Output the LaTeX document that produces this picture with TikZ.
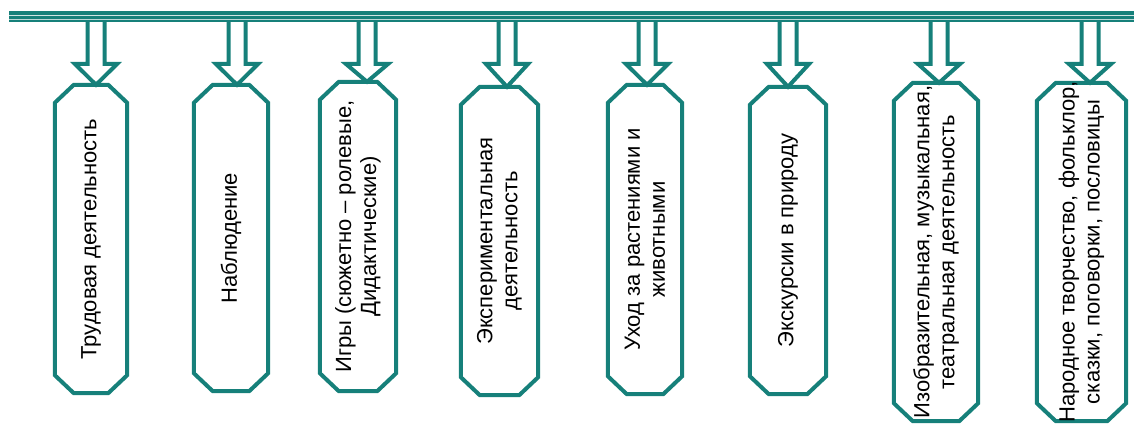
\documentclass[tikz,border=0pt]{standalone}
\usepackage{fontspec}
\setmainfont{Liberation Sans}
\definecolor{teal1}{RGB}{22,128,122}
\begin{document}
\begin{tikzpicture}[x=1pt,y=-1pt,
  box/.style={rectangle, draw=none, inner sep=0pt},
  boxline/.style={draw=teal1, line width=4pt, fill=white, line join=miter},
  lbl/.style={rotate=90, align=center, font=\fontsize{22}{25}\selectfont, text=black, inner sep=0pt},
  arr/.style={draw=teal1, line width=4pt, fill=white, line join=miter}]
\useasboundingbox (0,0) rectangle (1134,425);
\newcommand\chambox[1]{%
  \draw[boxline] ([xshift=19pt]#1.north west) -- ([xshift=-19pt]#1.north east)
    -- ([yshift=-18pt]#1.north east) -- ([yshift=18pt]#1.south east)
    -- ([xshift=-19pt]#1.south east) -- ([xshift=19pt]#1.south west)
    -- ([yshift=18pt]#1.south west) -- ([yshift=-18pt]#1.north west) -- cycle;}
% boxes
\node[box, minimum width=72pt, minimum height=308pt] (b1) at (91,239) {};
\node[box, minimum width=74pt, minimum height=306pt] (b2) at (231,238) {};
\node[box, minimum width=76pt, minimum height=309pt] (b3) at (358,236.5) {};
\node[box, minimum width=77pt, minimum height=308pt] (b4) at (499.5,241) {};
\node[box, minimum width=74pt, minimum height=309pt] (b5) at (645,239.5) {};
\node[box, minimum width=76pt, minimum height=307pt] (b6) at (788,240.5) {};
\node[box, minimum width=84pt, minimum height=338pt] (b7) at (936,252) {};
\node[box, minimum width=89pt, minimum height=338pt] (b8) at (1081.5,252) {};
\chambox{b1}\chambox{b2}\chambox{b3}\chambox{b4}
\chambox{b5}\chambox{b6}\chambox{b7}\chambox{b8}
% arrows from bar to boxes
\newcommand\blockarrow[2]{%
  \draw[arr] (#1-8.5,14) -- (#1-8.5,64) -- (#1-21,64) -- (#1,0 |- #2.north)
    -- (#1+21,64) -- (#1+8.5,64) -- (#1+8.5,14);}
\blockarrow{96}{b1}
\blockarrow{237}{b2}
\blockarrow{367}{b3}
\blockarrow{507}{b4}
\blockarrow{647}{b5}
\blockarrow{788}{b6}
\blockarrow{939}{b7}
\blockarrow{1090}{b8}
% bar
\node[fill=teal1, minimum width=1125pt, minimum height=11pt, inner sep=0pt, anchor=north west] (bar) at (9,11) {};
\draw[white, opacity=0.8, line width=1.4pt] (bar.west |- 0,15.8) -- (bar.east |- 0,15.8);
\draw[white, opacity=0.7, line width=1pt] (bar.west |- 0,20) -- (bar.east |- 0,20);
% labels
\node[lbl] (t1) at (b1) {Трудовая деятельность};
\node[lbl] (t2) at (b2) {Наблюдение};
\node[lbl] (t3) at (b3) {Игры (сюжетно – ролевые,\\ Дидактические)};
\node[lbl] (t4) at (b4) {Экспериментальная\\ деятельность};
\node[lbl] (t5) at (b5) {Уход за растениями и\\ животными};
\node[lbl] (t6) at (b6) {Экскурсии в природу};
\node[lbl] (t7) at (b7) {Изобразительная, музыкальная,\\ театральная деятельность};
\node[lbl] (t8) at (b8) {Народное творчество, фольклор,\\ сказки, поговорки, пословицы};
\end{tikzpicture}
\end{document}
